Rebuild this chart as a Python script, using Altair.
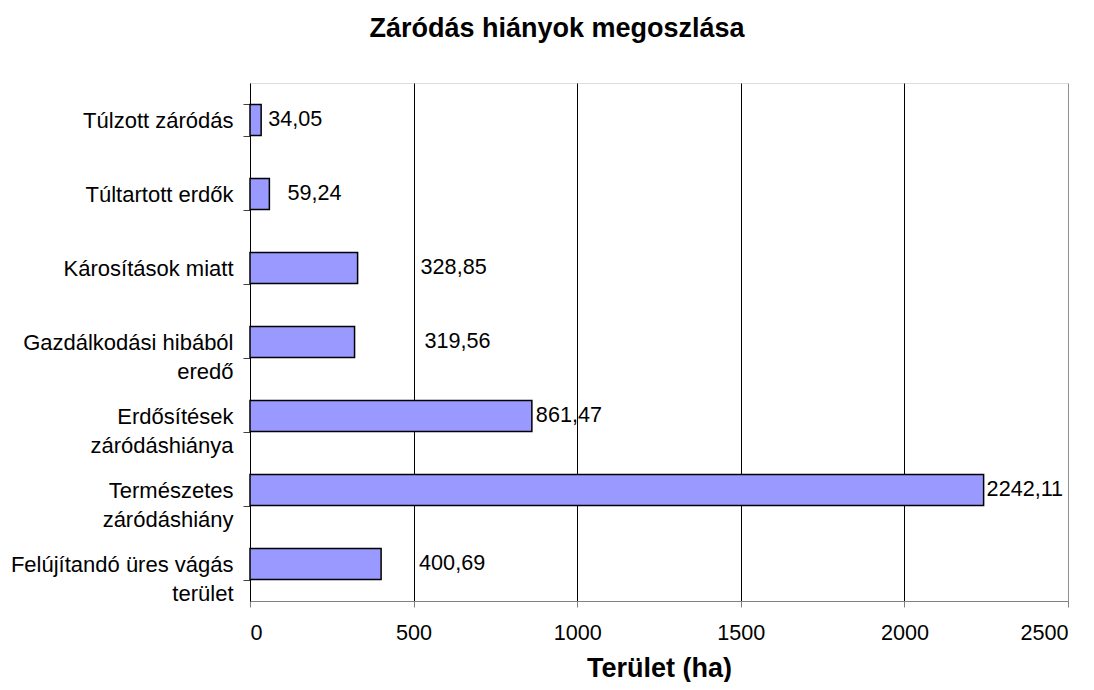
import altair as alt
import pandas as pd

categories = [
    "Túlzott záródás",
    "Túltartott erdők",
    "Károsítások miatt",
    "Gazdálkodási hibából|eredő",
    "Erdősítések|záródáshiánya",
    "Természetes|záródáshiány",
    "Felújítandó üres vágás|terület",
]
values = [34.05, 59.24, 328.85, 319.56, 861.47, 2242.11, 400.69]
value_labels = ["34,05", "59,24", "328,85", "319,56", "861,47", "2242,11", "400,69"]
x_ticks = [0, 500, 1000, 1500, 2000, 2500]
chart_title = ["Záródás hiányok megoszlása"]

df = pd.DataFrame({"cat": categories, "val": values, "lab": value_labels})

FONT = "Liberation Sans"

y_enc = alt.Y(
    "cat:N",
    sort=categories,
    scale=alt.Scale(paddingInner=0.58, paddingOuter=0.29),
    axis=alt.Axis(
        title=None,
        labelExpr="split(datum.label, '|')",
        labelFont=FONT,
        labelFontSize=22,
        labelLineHeight=29,
        labelColor="black",
        labelPadding=10,
        labelLimit=400,
        tickSize=7,
        tickColor="#404040",
        tickBand="extent",
        domainColor="black",
        grid=False,
        labelBaseline="middle",
    ),
)

x_enc = alt.X(
    "val:Q",
    scale=alt.Scale(domain=[0, 2500], nice=False),
    axis=alt.Axis(
        title="Terület (ha)",
        values=x_ticks,
        format="d",
        labelFont=FONT,
        labelFontSize=21.6,
        labelColor="black",
        labelBaseline="alphabetic",
        labelPadding=32,
        tickSize=6,
        tickColor="#808080",
        domainColor="#808080",
        grid=True,
        gridColor={"condition": {"test": "datum.value === 2500 || datum.value === 0", "value": "#909090"}, "value": "black"},
        gridOpacity=1,
        gridWidth=1,
        titleFont=FONT,
        titleFontSize=27,
        titleFontWeight="bold",
        titleColor="black",
        titleBaseline="alphabetic",
        titleY=75,
    ),
)

bars = alt.Chart(df).mark_bar(
    color="#9999FF", stroke="black", strokeWidth=1.5
).encode(x=x_enc, y=y_enc)

text_base = alt.Chart(df).encode(
    x="val:Q", y=alt.Y("cat:N", sort=categories), text="lab:N"
)

def lbl(names, dx):
    return text_base.transform_filter(
        alt.FieldOneOfPredicate(field="cat", oneOf=names)
    ).mark_text(align="left", baseline="middle", font=FONT, fontSize=21.6, color="black", dx=dx)

labels = alt.layer(
    lbl([categories[0]], 7),
    lbl([categories[1]], 18),
    lbl([categories[2]], 63),
    lbl([categories[3]], 70),
    lbl([categories[4]], 4),
    lbl([categories[5]], 3),
    lbl([categories[6]], 38),
)

title_mark = alt.Chart(pd.DataFrame({"t": chart_title})).mark_text(
    font=FONT, fontSize=27, fontWeight="bold", color="black",
    align="center", baseline="alphabetic",
).encode(x=alt.value(307), y=alt.value(-46), text="t:N")

chart = alt.layer(bars, labels, title_mark).properties(
    width=818,
    height=518,
    autosize=alt.AutoSizeParams(type="none"),
    padding={"left": 242, "top": 75, "right": 18, "bottom": 81},
).configure_view(
    fill="#FFFF99", stroke="#909090", strokeWidth=1.5
).configure(background="white")

chart.save("out.html", embed_options={"renderer": "svg", "actions": False})
